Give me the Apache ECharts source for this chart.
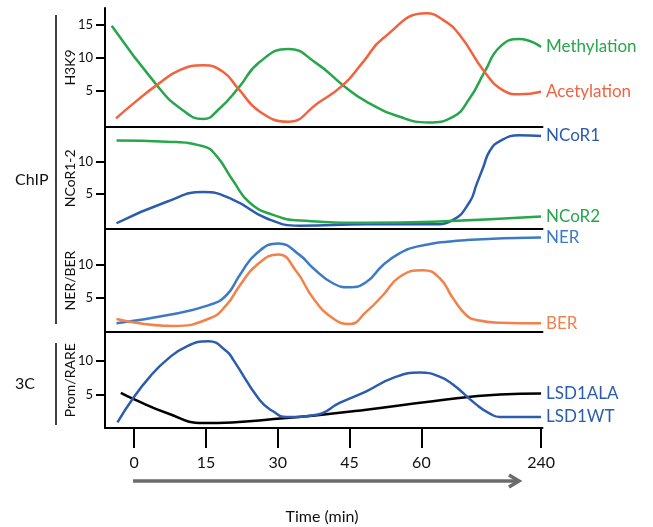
<!DOCTYPE html>
<html>
<head>
<meta charset="utf-8">
<script src="https://cdn.jsdelivr.net/npm/echarts@6/dist/echarts.min.js"></script>
<style>html,body{margin:0;padding:0;background:#fff}#c{width:653px;height:527px}</style>
</head>
<body>
<div id="c"></div>
<script>
// x positions are axis positions: 0,15,30,45,60 minutes, and 85 = 240 minutes
const tickPos = [0, 15, 30, 45, 60, 85];
const tickLabels = ['0', '15', '30', '45', '60', '240'];

const methX = [-4.7, 4.7, 9.6, 14.4, 17.9, 21.7, 26.2, 32.2, 38.1, 43.6, 48.5, 55.5, 61.4, 66.6, 70.1, 73.2, 76.4, 80.5, 85];
const methY = [14.9, 5.9, 2.4, 0.76, 2.4, 5.4, 9.4, 11.4, 9.2, 5.9, 3.4, 1.1, 0.25, 1.1, 3.9, 7.9, 11.7, 12.9, 11.7];
const acetX = [-3.8, -0.2, 4.7, 9.6, 14.4, 18.6, 21.7, 26.2, 32.2, 38.4, 43.6, 47.8, 52.0, 61.0, 64.5, 68.0, 73.2, 77.0, 80.5, 85];
const acetY = [0.86, 3.1, 5.9, 8.2, 8.9, 7.9, 5.4, 1.9, 0.35, 3.2, 5.9, 9.4, 13.0, 16.8, 15.8, 13.5, 7.9, 5.15, 4.5, 4.9];

const ncor1X = [-3.7, 6.8, 14.4, 20.7, 27.6, 34.6, 48.5, 62.4, 66.6, 70.1, 71.5, 72.9, 74.3, 76.4, 80.5, 85];
const ncor1Y = [0.47, 3.8, 5.3, 4.1, 1.25, 0.1, 0.3, 0.3, 1.0, 3.8, 6.45, 9.1, 11.7, 13.2, 14.1, 14.0];
const ncor2X = [-3.7, 6.8, 14.4, 17.2, 20.7, 24.2, 29.0, 34.6, 48.5, 62.4, 85];
const ncor2Y = [13.3, 13.1, 12.4, 10.9, 7.0, 3.6, 1.77, 0.88, 0.56, 0.72, 1.5];

const nerX = [-3.7, 6.8, 15.8, 19.3, 22.1, 25.6, 30.1, 34.6, 37.4, 41.5, 45.0, 48.5, 52.0, 55.5, 59.0, 69.4, 85];
const nerY = [1.07, 2.3, 3.9, 5.4, 8.5, 11.8, 13.3, 11.5, 9.5, 7.2, 6.6, 7.4, 10, 11.8, 12.8, 13.8, 14.2];
const berX = [-3.7, 8.1, 15.8, 19.3, 22.1, 25.6, 30.1, 33.9, 37.4, 41.5, 45.0, 48.5, 52.0, 55.5, 60.3, 63.8, 66.6, 69.4, 71.5, 76.4, 85];
const berY = [1.73, 0.66, 1.84, 3.9, 6.9, 10.0, 11.6, 9.0, 4.9, 1.84, 0.96, 2.85, 5.4, 8.2, 9.2, 8.0, 4.9, 2.3, 1.58, 1.16, 1.07];

const alaX = [-2.8, -0.2, 6.8, 14.4, 31.8, 48.5, 62.4, 76.4, 85];
const alaY = [5.25, 4.35, 2.25, 0.75, 1.5, 2.75, 4.0, 5.0, 5.15];
const wtX = [-3.5, -0.2, 3.3, 6.8, 10.9, 15.5, 19.3, 20.7, 26.2, 29.0, 31.8, 38.1, 42.9, 48.5, 54.1, 59.7, 63.8, 66.6, 71.5, 74.3, 76.4, 85];
const wtY = [0.84, 4.5, 7.7, 10.2, 12.2, 13.0, 11.5, 10.2, 4.2, 2.5, 1.65, 2.0, 3.75, 5.5, 7.5, 8.3, 7.7, 6.5, 3.5, 2.15, 1.65, 1.65];

const FONT = 'Lato';
const zip = (xs, ys) => xs.map((x, i) => [x, ys[i]]);

const panels = [
  {name: 'H3K9', top: 8, height: 119, min: -0.45, max: 17.6, ticks: [5, 10, 15]},
  {name: 'NCoR1-2', top: 127.5, height: 101.5, min: -0.42, max: 15.3, ticks: [5, 10]},
  {name: 'NER/BER', top: 229, height: 103, min: -0.26, max: 15.5, ticks: [5, 10]},
  {name: 'Prom/RARE', top: 332.5, height: 95.5, min: 0, max: 14.3, ticks: [5, 10]}
];

const grid = panels.map(p => ({left: 105, width: 437.5, top: p.top, height: p.height}));
const xAxis = panels.map((p, i) => {
  const last = i === panels.length - 1;
  return {
    type: 'value', gridIndex: i, min: -6.1, max: 85.3,
    axisLine: {show: true, onZero: false, lineStyle: {color: '#000', width: 2}},
    axisTick: {show: last, length: 20, lineStyle: {color: '#000', width: 2}, customValues: tickPos},
    axisLabel: {show: last, margin: 27, fontSize: 16, fontFamily: FONT, color: '#111',
      customValues: tickPos, formatter: v => tickLabels[tickPos.indexOf(v)] || ''},
    splitLine: {show: false}
  };
});
const yAxis = panels.map((p, i) => ({
  type: 'value', gridIndex: i, min: p.min, max: p.max,
  name: p.name, nameLocation: 'middle', nameRotate: 90, nameGap: 28, nameMoveOverlap: false,
  nameTextStyle: {fontSize: 14, fontFamily: FONT, color: '#111'},
  axisLine: {show: true, onZero: false, lineStyle: {color: '#000', width: 2}},
  axisTick: {show: true, length: 9, lineStyle: {color: '#000', width: 2}, customValues: p.ticks},
  axisLabel: {margin: 12, fontSize: 13, fontFamily: FONT, color: '#111', customValues: p.ticks},
  splitLine: {show: false}
}));

function line(name, xs, ys, gi, color, labelColor) {
  return {
    type: 'line', name, xAxisIndex: gi, yAxisIndex: gi, data: zip(xs, ys),
    smooth: 0.5, symbol: 'none', lineStyle: {color, width: 2.5}, itemStyle: {color},
    endLabel: {show: true, formatter: '{a}', color: labelColor || color, fontSize: 17, fontFamily: FONT, distance: 5},
    z: 3
  };
}

const GREEN = '#27a64b', RED = '#f2623f', BLUE = '#2c5cad', NERBLUE = '#3d7ac6', BERORANGE = '#f3814a';

const series = [
  line('Methylation', methX, methY, 0, GREEN),
  line('Acetylation', acetX, acetY, 0, RED),
  line('NCoR1', ncor1X, ncor1Y, 1, BLUE),
  line('NCoR2', ncor2X, ncor2Y, 1, GREEN),
  line('NER', nerX, nerY, 2, NERBLUE),
  line('BER', berX, berY, 2, BERORANGE),
  line('LSD1ALA', alaX, alaY, 3, '#000', BLUE),
  line('LSD1WT', wtX, wtY, 3, BLUE)
];

const chart = echarts.init(document.getElementById('c'), null, {renderer: 'canvas'});
chart.setOption({
  animation: false,
  backgroundColor: '#fff',
  grid, xAxis, yAxis, series,
  graphic: [
    {type: 'line', shape: {x1: 56, y1: 15, x2: 56, y2: 324}, style: {stroke: '#000', lineWidth: 1.5}},
    {type: 'line', shape: {x1: 56, y1: 343, x2: 56, y2: 425}, style: {stroke: '#000', lineWidth: 1.5}},
    {type: 'text', x: 15, y: 180, style: {text: 'ChIP', fontSize: 16, fontFamily: FONT, fill: '#111', verticalAlign: 'middle'}},
    {type: 'text', x: 15, y: 384, style: {text: '3C', fontSize: 16, fontFamily: FONT, fill: '#111', verticalAlign: 'middle'}},
    {type: 'line', shape: {x1: 133, y1: 481, x2: 518, y2: 481}, style: {stroke: '#6b6b6b', lineWidth: 3.5}},
    {type: 'polyline', shape: {points: [[509, 475], [519, 481], [509, 487]]}, style: {stroke: '#6b6b6b', lineWidth: 3.5, fill: null}},
    {type: 'text', x: 322, y: 517, style: {text: 'Time (min)', fontSize: 16, fontFamily: FONT, fill: '#111', align: 'center', verticalAlign: 'middle'}}
  ]
});
</script>
</body>
</html>
